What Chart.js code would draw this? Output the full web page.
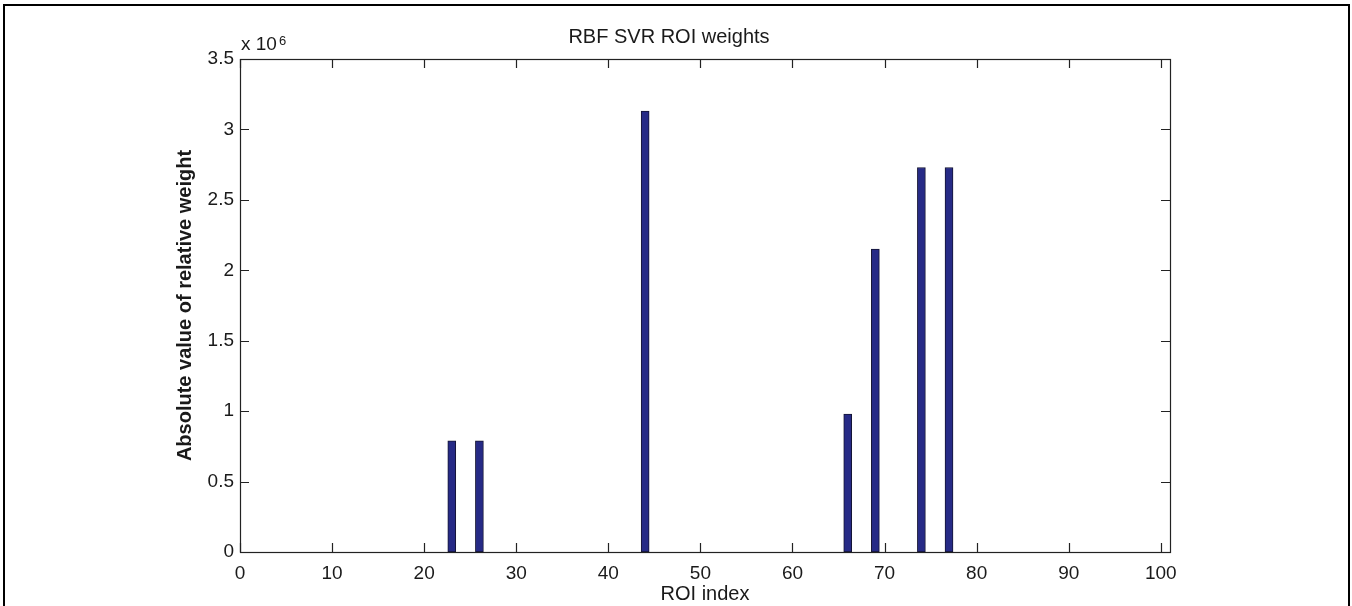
<!DOCTYPE html>
<html>
<head>
<meta charset="utf-8">
<script src="https://cdn.jsdelivr.net/npm/chart.js@4.4.1/dist/chart.umd.min.js"></script>
<style>
  html, body { margin:0; padding:0; background:#fff; overflow:hidden; }
  #wrap { position:relative; width:1352px; height:606px; overflow:hidden; }
  #frame { position:absolute; left:3px; top:4px; width:1343px; height:700px; border:2px solid #000; }
  #roi { position:absolute; left:0; top:0; }
</style>
</head>
<body>
<div id="wrap">
  <div id="frame"></div>
  <canvas id="roi" width="1352" height="606"></canvas>
</div>
<script>
// ROI weights (absolute value, in units of 1e6)
const roiIndex = [23, 26, 44, 66, 69, 74, 77];
const weightMillions = [0.79, 0.79, 3.13, 0.98, 2.15, 2.73, 2.73];
const xTicks = [0, 10, 20, 30, 40, 50, 60, 70, 80, 90, 100];
const yTicks = [0, 0.5, 1, 1.5, 2, 2.5, 3, 3.5];
const EXPONENT = 6;
const SCALE = Math.pow(10, EXPONENT);

const FONT = '"Liberation Sans", Arial, sans-serif';
const AXIS = '#222';

// matlab style box with inward ticks on all four sides + the "x 10^6" multiplier
const boxTicks = {
  id: 'boxTicks',
  afterDatasetsDraw(chart){
    const { ctx, chartArea: a, scales: { x, y } } = chart;
    const len = 9;
    ctx.save();
    ctx.strokeStyle = AXIS;
    ctx.lineWidth = 1.2;
    ctx.strokeRect(a.left + 0.5, a.top + 0.5, a.right - a.left, a.bottom - a.top);
    ctx.beginPath();
    xTicks.forEach(v => {
      const px = Math.round(x.getPixelForValue(v)) + 0.5;
      ctx.moveTo(px, a.bottom); ctx.lineTo(px, a.bottom - len);
      ctx.moveTo(px, a.top); ctx.lineTo(px, a.top + len);
    });
    yTicks.forEach(v => {
      const py = Math.round(y.getPixelForValue(v * SCALE)) + 0.5;
      ctx.moveTo(a.left, py); ctx.lineTo(a.left + len, py);
      ctx.moveTo(a.right, py); ctx.lineTo(a.right - len, py);
    });
    ctx.stroke();

    ctx.fillStyle = '#1a1a1a';
    ctx.textBaseline = 'alphabetic';
    ctx.textAlign = 'left';
    ctx.font = '19px ' + FONT;
    ctx.fillText('x 10', a.left + 1, a.top - 9);
    const w = ctx.measureText('x 10').width;
    ctx.font = '13px ' + FONT;
    ctx.fillText(String(EXPONENT), a.left + 3 + w, a.top - 14);
    ctx.restore();
  }
};

new Chart(document.getElementById('roi'), {
  type: 'bar',
  data: {
    datasets: [{
      data: roiIndex.map((r, i) => ({ x: r, y: weightMillions[i] * SCALE })),
      backgroundColor: '#262a86',
      borderColor: '#141433',
      borderWidth: 1,
      borderSkipped: false,
      barThickness: 8
    }]
  },
  options: {
    responsive: false,
    animation: false,
    layout: { padding: { left: 168, right: 182, top: 0, bottom: 0 } },
    plugins: {
      legend: { display: false },
      tooltip: { enabled: false },
      title: {
        display: true,
        text: 'RBF SVR ROI weights',
        color: '#1a1a1a',
        font: { family: FONT, size: 20, weight: 'normal' },
        padding: { top: 25, bottom: 10 }
      }
    },
    scales: {
      x: {
        type: 'linear',
        offset: false,
        min: 0,
        max: 101,
        grid: { display: false, drawTicks: false, offset: false },
        border: { display: false },
        ticks: {
          stepSize: 10,
          includeBounds: false,
          color: '#1a1a1a',
          padding: 10,
          maxRotation: 0,
          font: { family: FONT, size: 19 }
        },
        title: {
          display: true,
          text: 'ROI index',
          color: '#1a1a1a',
          font: { family: FONT, size: 20 },
          padding: { top: 0, bottom: 0 }
        },
        afterFit(scale){ scale.height = 54; }
      },
      y: {
        min: 0,
        max: yTicks[yTicks.length - 1] * SCALE,
        grid: { display: false, drawTicks: false },
        border: { display: false },
        ticks: {
          stepSize: 0.5 * SCALE,
          color: '#1a1a1a',
          padding: 6,
          font: { family: FONT, size: 19 },
          callback: v => String(v / SCALE)
        },
        title: {
          display: true,
          text: 'Absolute value of relative weight',
          color: '#1a1a1a',
          font: { family: FONT, size: 20, weight: 'bold' },
          padding: { top: 5, bottom: 0 }
        },
        afterFit(scale){ scale.width = 72; }
      }
    }
  },
  plugins: [boxTicks]
});
</script>
</body>
</html>
